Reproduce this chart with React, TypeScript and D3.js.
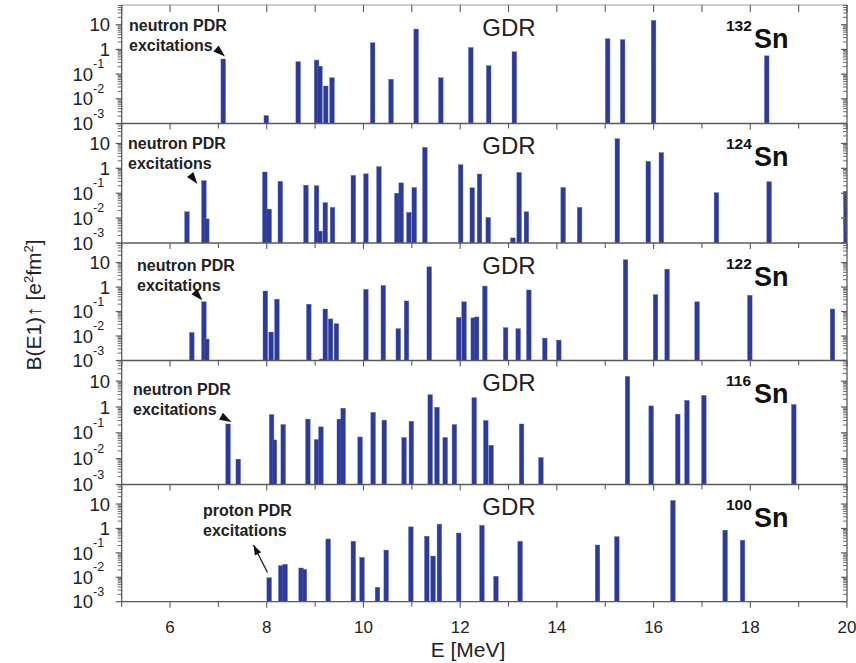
import React from 'react';
import * as d3 from 'd3';

// E [MeV] and B(E1) [e^2 fm^2] per nucleus
const sn132E = [7.10, 7.99, 8.65, 9.03, 9.10, 9.22, 9.35, 10.19, 10.57, 11.09, 11.60, 12.22, 12.59, 13.12, 15.05, 15.36, 16.00, 18.34];
const sn132B = [0.41, 0.0021, 0.32, 0.37, 0.21, 0.033, 0.071, 1.86, 0.062, 6.7, 0.071, 1.2, 0.22, 0.81, 2.7, 2.5, 15, 0.55];

const sn124E = [6.35, 6.70, 6.76, 7.96, 8.05, 8.28, 8.81, 9.03, 9.10, 9.21, 9.36, 9.79, 10.05, 10.32, 10.69, 10.78, 10.94, 11.05, 11.27, 12.01, 12.25, 12.40, 12.58, 13.09, 13.22, 13.37, 14.13, 14.47, 15.25, 15.89, 16.16, 17.30, 18.39, 19.98];
const sn124B = [0.018, 0.32, 0.0093, 0.71, 0.023, 0.30, 0.21, 0.20, 0.003, 0.042, 0.027, 0.52, 0.60, 1.16, 0.10, 0.26, 0.017, 0.17, 6.9, 1.4, 0.165, 0.59, 0.0105, 0.0016, 0.68, 0.018, 0.17, 0.027, 15.5, 1.9, 4.3, 0.105, 0.29, 0.12];

const sn122E = [6.45, 6.70, 6.76, 7.97, 8.09, 8.21, 8.87, 9.14, 9.21, 9.32, 9.44, 10.05, 10.41, 10.72, 10.89, 11.36, 11.97, 12.08, 12.27, 12.34, 12.51, 12.94, 13.20, 13.42, 13.75, 14.04, 15.42, 16.04, 16.28, 16.90, 17.99, 19.70];
const sn122B = [0.014, 0.25, 0.0075, 0.69, 0.0145, 0.32, 0.2, 0.00115, 0.127, 0.05, 0.032, 0.8, 1.17, 0.02, 0.27, 6.7, 0.058, 0.25, 0.055, 0.06, 1.1, 0.022, 0.02, 0.76, 0.0082, 0.0068, 13, 0.49, 5.4, 0.25, 0.46, 0.127];

const sn116E = [7.20, 7.41, 8.10, 8.16, 8.34, 8.85, 9.03, 9.12, 9.50, 9.58, 9.93, 10.20, 10.43, 10.84, 10.99, 11.38, 11.52, 11.69, 11.88, 12.29, 12.53, 12.64, 13.27, 13.67, 15.46, 15.95, 16.50, 16.69, 17.04, 18.90];
const sn116B = [0.22, 0.0096, 0.51, 0.053, 0.21, 0.34, 0.055, 0.17, 0.34, 0.9, 0.069, 0.62, 0.31, 0.066, 0.28, 3.0, 0.98, 0.066, 0.21, 2.3, 0.30, 0.033, 0.22, 0.011, 15.3, 1.1, 0.53, 1.8, 2.8, 1.25];

const sn100E = [8.05, 8.29, 8.38, 8.71, 8.78, 9.27, 9.79, 9.97, 10.29, 10.47, 10.98, 11.31, 11.44, 11.57, 11.97, 12.45, 12.74, 13.24, 14.84, 15.24, 16.40, 17.48, 17.84];
const sn100B = [0.0096, 0.030, 0.034, 0.024, 0.021, 0.37, 0.30, 0.065, 0.0039, 0.13, 1.16, 0.48, 0.074, 1.5, 0.65, 1.35, 0.011, 0.30, 0.21, 0.46, 14, 0.85, 0.33];

const massNumbers = ['132', '124', '122', '116', '100'];
const pdrLabels = ['neutron PDR', 'neutron PDR', 'neutron PDR', 'neutron PDR', 'proton PDR'];
const xTicks = [6, 8, 10, 12, 14, 16, 18, 20];
const decades = [-3, -2, -1, 0, 1];

const panelData = [
  [sn132E, sn132B],
  [sn124E, sn124B],
  [sn122E, sn122B],
  [sn116E, sn116B],
  [sn100E, sn100B],
];

const W = 856;
const H = 663;
const left = 121.7;
const right = 847;
const bounds = [5, 123.5, 243, 360.5, 484.5, 601.7];
const yTop = Math.pow(10, 1.8);
const axisColor = '#5a5a5a';
const barColor = '#2c3a98';
const font = '"Liberation Sans", Arial, sans-serif';

const x = d3.scaleLinear().domain([5, 20]).range([left, right]);

// label boxes + arrowheads for the PDR notes
const notes = [
  { tx: 129, ty: 25, from: [212.5, 45.5], tip: [225, 56.5], line: false },
  { tx: 128, ty: 143.5, from: [187.5, 171], tip: [197.5, 184], line: false },
  { tx: 137, ty: 265, from: [191.5, 288.5], tip: [202.5, 300.5], line: false },
  { tx: 133, ty: 389, from: [216, 413.5], tip: [231.5, 422], line: false },
  { tx: 203, ty: 510, from: [267.5, 572.5], tip: [253.5, 545], line: true },
];

function arrowHead(from: number[], tip: number[], len: number, half: number) {
  const dx = tip[0] - from[0];
  const dy = tip[1] - from[1];
  const d = Math.hypot(dx, dy);
  const ux = dx / d;
  const uy = dy / d;
  const bx = tip[0] - ux * len;
  const by = tip[1] - uy * len;
  return `${tip[0]},${tip[1]} ${bx - uy * half},${by + ux * half} ${bx + uy * half},${by - ux * half}`;
}

const Panel: React.FC<{ i: number }> = ({ i }) => {
  const top = bounds[i];
  const bottom = bounds[i + 1];
  const y = d3.scaleLog().domain([1e-3, yTop]).range([bottom, top]);
  const [es, bs] = panelData[i];
  const minors: number[] = [];
  decades.forEach(d => {
    for (let k = 2; k <= 9; k++) {
      const v = k * Math.pow(10, d);
      if (v < yTop) minors.push(v);
    }
  });
  const note = notes[i];
  return (
    <g>
      <defs>
        <clipPath id={`clip${i}`}>
          <rect x={left} y={top} width={right - left} height={bottom - top} />
        </clipPath>
      </defs>
      <g clipPath={`url(#clip${i})`}>
        {es.map((e, j) => (
          <rect key={j} x={x(e) - 2.3} y={y(bs[j])} width={4.6} height={bottom - y(bs[j])}
            fill={barColor} stroke="#5b68b8" strokeWidth={0.4} />
        ))}
      </g>
      {/* frame */}
      <line x1={left} x2={right} y1={bottom} y2={bottom} stroke={axisColor} strokeWidth={1.3} />
      {i === 0 && <line x1={left} x2={right} y1={top} y2={top} stroke="#999" strokeWidth={1} />}
      <line x1={left} x2={left} y1={top} y2={bottom} stroke={axisColor} strokeWidth={1.3} />
      <line x1={right} x2={right} y1={top} y2={bottom} stroke={axisColor} strokeWidth={1.3} />
      {/* x ticks pointing down from each boundary */}
      {d3.range(5, 21).map(t => (
        <line key={`xt${t}`} x1={x(t)} x2={x(t)} y1={bottom} y2={bottom + (t % 2 === 0 ? 6 : 5)}
          stroke={axisColor} strokeWidth={1.1} />
      ))}
      {i === 0 && d3.range(5, 21).map(t => (
        <line key={`xtt${t}`} x1={x(t)} x2={x(t)} y1={top} y2={top + 7} stroke={axisColor} strokeWidth={1.1} />
      ))}
      {/* y ticks */}
      {decades.map(d => {
        const yy = y(Math.pow(10, d));
        return (
          <g key={`yd${d}`}>
            <line x1={left - 6} x2={left} y1={yy} y2={yy} stroke={axisColor} strokeWidth={1.2} />
            <line x1={right - 6} x2={right} y1={yy} y2={yy} stroke={axisColor} strokeWidth={1.2} />
            <text x={d < 0 ? 93 : 110} y={yy} dy="0.36em" textAnchor="end" fontSize={18.5} fill="#222" fontFamily={font}>
              {d === 0 ? '1' : '10'}
            </text>
            {d < 0 && (
              <text x={93} y={yy - 6} textAnchor="start" fontSize={12.5} fill="#222" fontFamily={font}>{`-${-d}`}</text>
            )}
          </g>
        );
      })}
      {minors.map((v, j) => (
        <g key={`ym${j}`}>
          <line x1={left - 4} x2={left} y1={y(v)} y2={y(v)} stroke={axisColor} strokeWidth={0.9} />
          <line x1={right - 4} x2={right} y1={y(v)} y2={y(v)} stroke={axisColor} strokeWidth={0.9} />
        </g>
      ))}
      {/* labels */}
      <text x={509} y={top + 22} dy="0.36em" textAnchor="middle" fontSize={24} fill="#222" fontFamily={font}>GDR</text>
      <text x={726} y={top + 20} dy="0.36em" fontSize={15.5} fontWeight="bold" fill="#111" fontFamily={font}>{massNumbers[i]}</text>
      <text x={754} y={top + 33} dy="0.36em" fontSize={27} fontWeight="bold" fill="#111" fontFamily={font}>Sn</text>
      <text x={note.tx} y={note.ty} dy="0.36em" fontSize={16} fontWeight="bold" fill="#222" fontFamily={font}>{pdrLabels[i]}</text>
      <text x={note.tx} y={note.ty + 20} dy="0.36em" fontSize={16} fontWeight="bold" fill="#222" fontFamily={font}>excitations</text>
      {note.line && (
        <line x1={note.from[0]} y1={note.from[1]} x2={note.tip[0]} y2={note.tip[1]} stroke="#222" strokeWidth={1.3} />
      )}
      <polygon points={arrowHead(note.from, note.tip, note.line ? 10 : 12, note.line ? 3.5 : 4)} fill="#111" />
    </g>
  );
};

export default function App() {
  const base = bounds[5];
  return (
    <svg width={W} height={H} style={{ display: 'block', position: 'absolute', left: 0, top: 0, background: '#fff' }}>
      {[0, 1, 2, 3, 4].map(i => <Panel key={i} i={i} />)}
      {xTicks.map(t => (
        <text key={t} x={x(t)} y={base + 25} dy="0.36em" textAnchor="middle" fontSize={17} fill="#222" fontFamily={font}>{t}</text>
      ))}
      <text x={468} y={base + 48} dy="0.36em" textAnchor="middle" fontSize={21} fill="#222" fontFamily={font}>E [MeV]</text>
      <text transform="translate(33,305) rotate(-90)" textAnchor="middle" dy="0.36em" fontSize={21} fill="#222" fontFamily={font}>
        B(E1)↑ [e<tspan dy="-8" fontSize={13}>2</tspan><tspan dy="8">fm</tspan><tspan dy="-8" fontSize={13}>2</tspan><tspan dy="8">]</tspan>
      </text>
    </svg>
  );
}
